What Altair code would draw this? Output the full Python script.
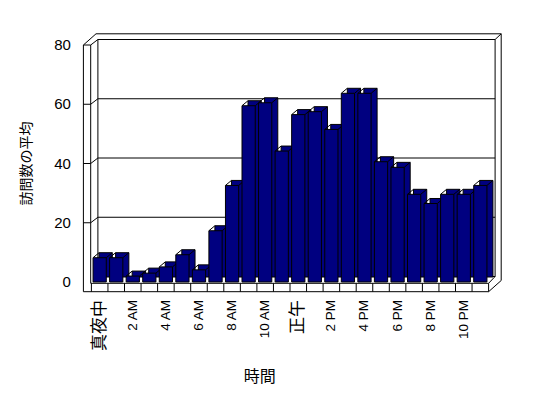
import altair as alt
import pandas as pd

# ---- data ----
hours = list(range(24))
visits = [8.2, 8.2, 2.0, 3.0, 5.1, 9.2, 4.1, 17.3, 32.6, 59.5, 60.5, 44.2,
          56.5, 57.5, 51.5, 63.7, 63.7, 40.6, 38.7, 29.6, 26.5, 29.6, 29.6, 32.6]
tick_labels = ["真夜中", "2 AM", "4 AM", "6 AM", "8 AM", "10 AM",
               "正午", "2 PM", "4 PM", "6 PM", "8 PM", "10 PM"]
y_ticks = [0, 20, 40, 60, 80]
x_title = "時間"
y_title = "訪問数の平均"

df = pd.DataFrame({"hour": hours, "value": visits})
slots = pd.DataFrame({"k": list(range(25))})
xlab = pd.DataFrame({"i": list(range(len(tick_labels))), "label": tick_labels})
ylab = pd.DataFrame({"v": y_ticks})

NAVY = "#000080"
LATIN = "Liberation Sans, Noto Sans CJK JP"
CJK = "Noto Sans CJK JP"
W, H = 397.2, 237

xs = alt.Scale(domain=[0, 24], nice=False, zero=False)
ys = alt.Scale(domain=[0, 80], nice=False)


def seg(x1, y1, dx1, dy1, x2, y2, dx2, dy2):
    return alt.Chart(df).mark_rule(
        color="black", strokeWidth=1,
        xOffset=dx1, yOffset=dy1, x2Offset=dx2, y2Offset=dy2,
    ).encode(
        x=alt.X(datum=x1, scale=xs, axis=None),
        y=alt.Y(datum=y1, scale=ys, axis=None),
        x2=alt.X2(datum=x2),
        y2=alt.Y2(datum=y2),
    ).transform_filter("datum.hour == 0")


BX, BY = 6.5, -5.5   # inner back wall depth
OX, OY = 12.6, -11.2  # outer shell depth

back_layers = [
    seg(0, 80, BX, BY, 24, 80, BX, BY),
    seg(0, 80, BX, BY, 0, 0, BX, BY),
    seg(24, 80, BX, BY, 24, 0, BX, BY),
    seg(0, 0, BX, BY, 24, 0, BX, BY),
    # outer shell
    seg(0, 80, -8 + OX, OY, 24, 80, OX, OY),
    seg(24, 80, OX, OY, 24, 0, OX, 9.7 + OY),
    seg(0, 80, -8, 0, 0, 80, -8 + OX, OY),
    seg(0, 80, -0.7, 0, 0, 80, BX, BY),
    seg(24, 80, OX, OY, 24, 80, BX, BY),
    # left wall front face
    seg(0, 80, -8, 0, 0, 0, -8, 9.7),
    seg(0, 80, -0.7, 0, 0, 0, -0.7, 1.3),
    seg(0, 80, -8, 0, 0, 80, -0.7, 0),
]
for v in y_ticks[1:-1]:
    back_layers.append(seg(0, v, BX, BY, 24, v, BX, BY))
    back_layers.append(seg(0, v, -8, 0, 0, v, -0.7, 0))
    back_layers.append(seg(0, v, -0.7, 0, 0, v, BX, BY))

DX, DY = 6, -5
bars = alt.Chart(df).transform_calculate(x0="datum.hour + 0.1", x1="datum.hour + 0.9")

bar_back = bars.mark_rect(
    fill=NAVY, stroke="black", strokeWidth=1,
    xOffset=DX, x2Offset=DX, yOffset=DY, y2Offset=DY,
).encode(
    x=alt.X("x0:Q", scale=xs, axis=None),
    x2="x1:Q",
    y=alt.Y("value:Q", scale=ys, axis=None),
    y2=alt.Y2(datum=0),
)
diag_l = bars.mark_rule(color="black", strokeWidth=1, x2Offset=DX, y2Offset=DY).encode(
    x=alt.X("x0:Q", scale=xs, axis=None), x2="x0:Q",
    y=alt.Y("value:Q", scale=ys, axis=None), y2="value:Q",
)
diag_r = bars.mark_rule(color="black", strokeWidth=1, x2Offset=DX, y2Offset=DY).encode(
    x=alt.X("x1:Q", scale=xs, axis=None), x2="x1:Q",
    y=alt.Y("value:Q", scale=ys, axis=None), y2="value:Q",
)
bar_front = bars.mark_rect(fill=NAVY, stroke="black", strokeWidth=1).encode(
    x=alt.X("x0:Q", scale=xs, axis=None), x2="x1:Q",
    y=alt.Y("value:Q", scale=ys, axis=None), y2=alt.Y2(datum=0),
)

front_layers = [
    seg(0, 0, -0.7, 1.3, 24, 0, 0, 1.3),
    seg(0, 0, -8, 9.7, 24, 0, 0, 9.7),
    seg(24, 0, 0, 9.7, 24, 0, OX, 9.7 + OY),
    seg(24, 0, 0, 1.3, 24, 0, BX, BY),
]
floor_ticks = alt.Chart(slots).mark_rule(
    color="black", strokeWidth=1, yOffset=1.3, y2Offset=9.7
).encode(
    x=alt.X("k:Q", scale=xs, axis=None),
    y=alt.Y(datum=0, scale=ys, axis=None),
    y2=alt.Y2(datum=0),
)

# ---- axis labels and titles as text ----
x_labels = alt.Chart(xlab).transform_calculate(
    pos="datum.i * 2 + 0.5",
    cjk="test(/[AP]M/, datum.label) ? 0 : 1",
).mark_text(
    angle=270, align="right", baseline="middle", yOffset=18,
    font=LATIN, fill="black",
).encode(
    x=alt.X("pos:Q", scale=xs, axis=None),
    y=alt.Y(datum=0, scale=ys, axis=None),
    text="label:N",
    size=alt.condition("datum.cjk == 1", alt.value(17), alt.value(13.5)),
)
y_labels = alt.Chart(ylab).mark_text(
    align="right", baseline="middle", xOffset=-20.5,
    font=LATIN, fontSize=15, fill="black",
).encode(
    x=alt.X(datum=0, scale=xs, axis=None),
    y=alt.Y("v:Q", scale=ys, axis=None),
    text="v:Q",
)
x_title_mark = alt.Chart(xlab).transform_filter("datum.i == 0").mark_text(
    align="center", baseline="middle", xOffset=168.3, yOffset=95,
    font=CJK, fontSize=16, fill="black",
).encode(
    x=alt.X(datum=0, scale=xs, axis=None),
    y=alt.Y(datum=0, scale=ys, axis=None),
    text=alt.value(x_title),
)
y_title_mark = alt.Chart(xlab).transform_filter("datum.i == 0").mark_text(
    angle=270, align="center", baseline="middle", xOffset=-64.4,
    font=CJK, fontSize=14, fill="black",
).encode(
    x=alt.X(datum=0, scale=xs, axis=None),
    y=alt.Y(datum=40, scale=ys, axis=None),
    text=alt.value(y_title),
)

chart = alt.layer(
    *back_layers, bar_back, diag_l, diag_r, bar_front,
    *front_layers, floor_ticks, x_labels, y_labels, x_title_mark, y_title_mark,
).properties(
    width=W, height=H,
    autosize=alt.AutoSizeParams(type="none"),
    padding={"left": 83.4, "top": 37, "right": 51.4, "bottom": 108},
    background="white",
).configure_view(stroke=None)

chart.save("out.html", embed_options={"renderer": "svg", "actions": False})
